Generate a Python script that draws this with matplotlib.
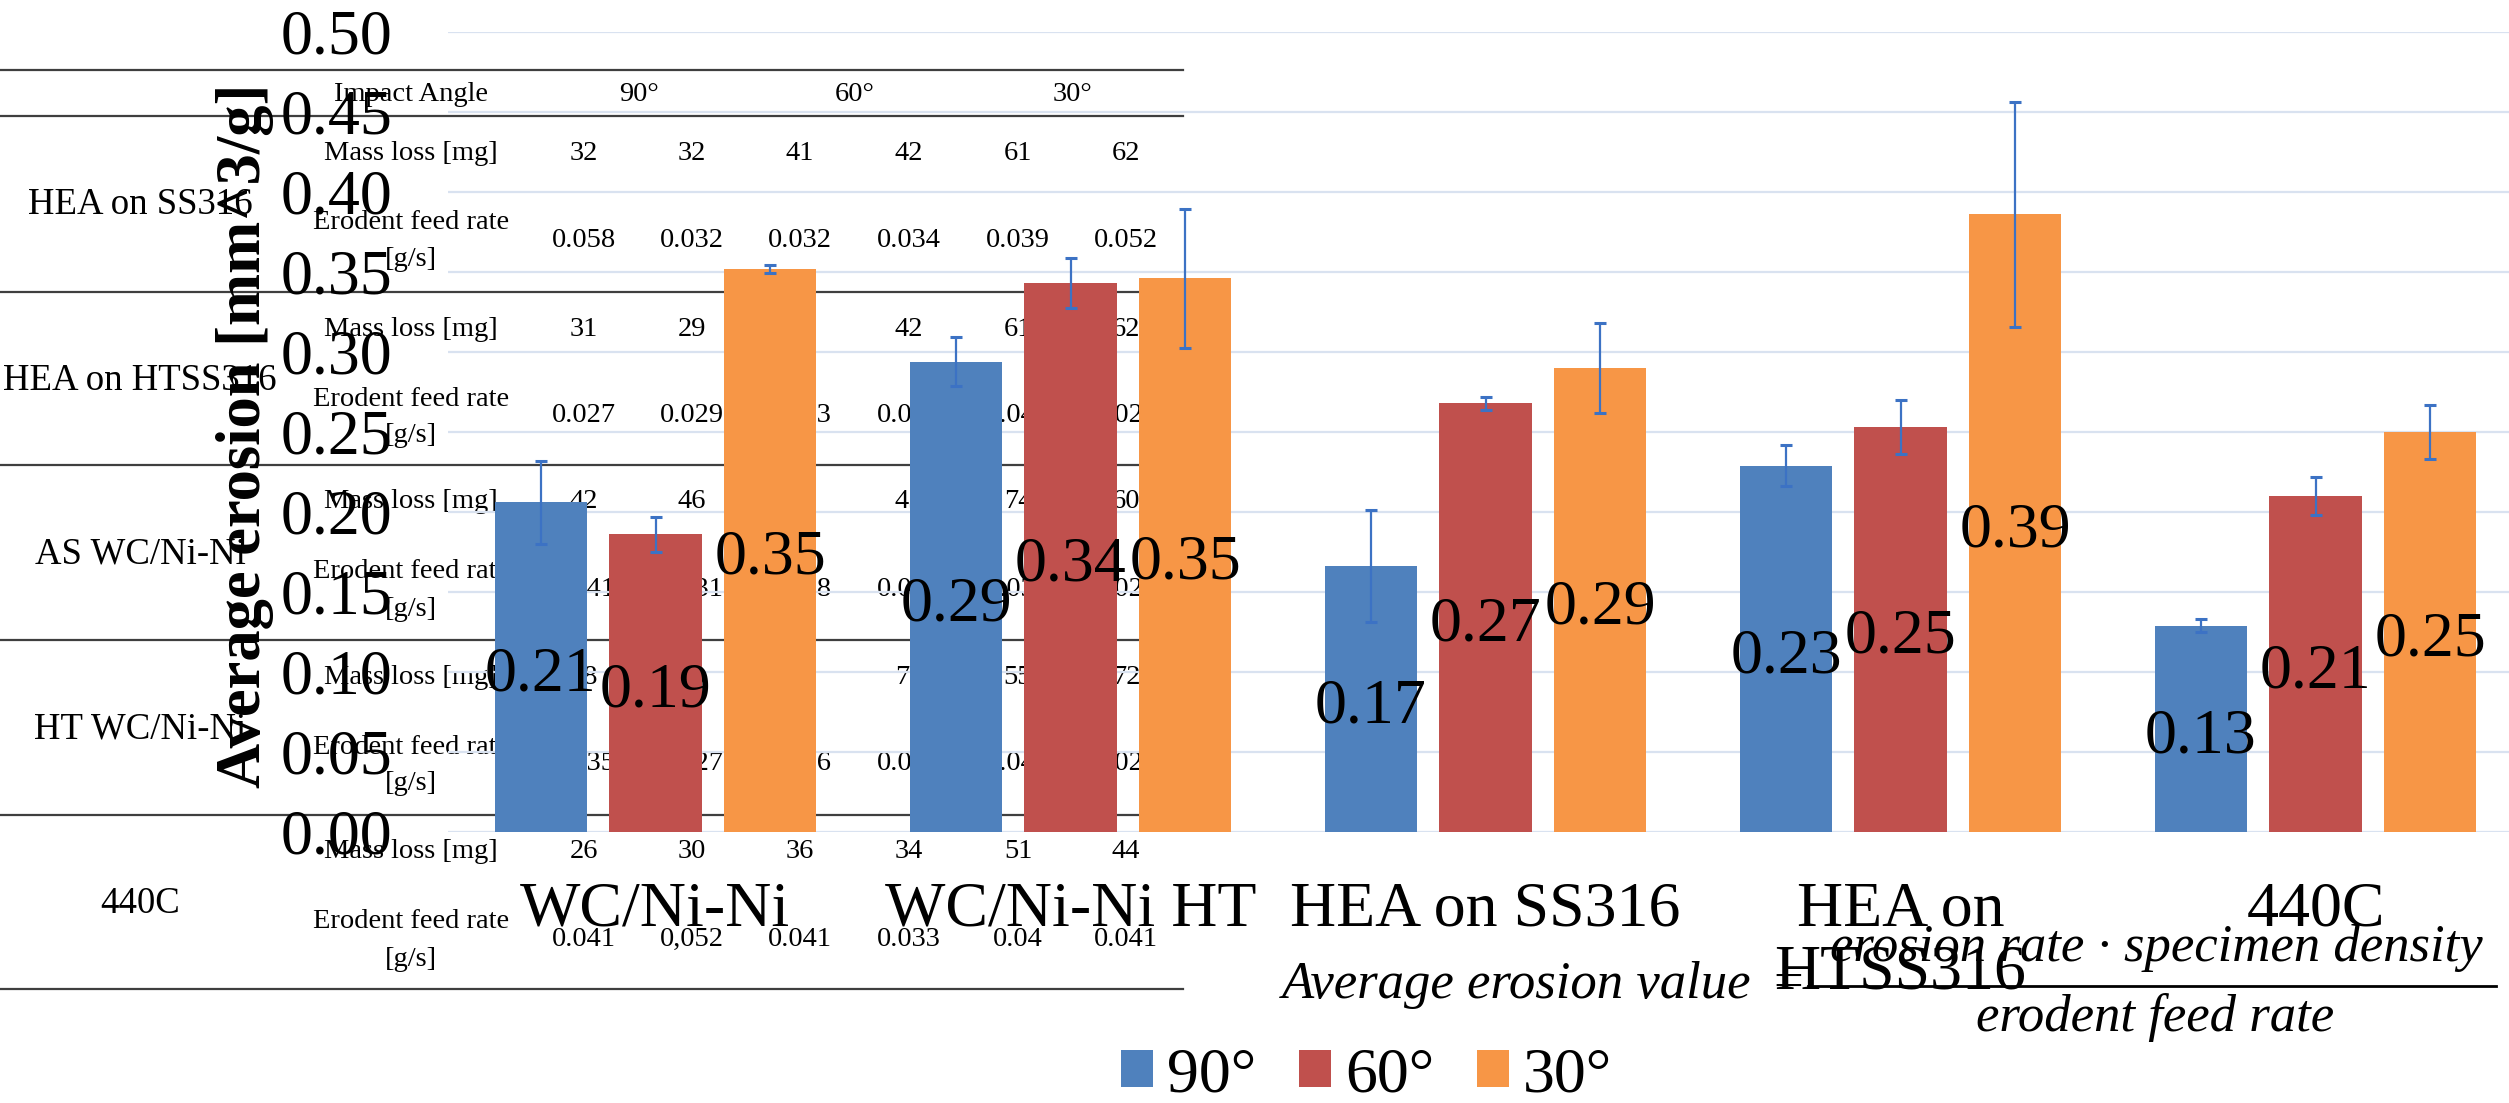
import numpy as np
import matplotlib
matplotlib.use("Agg")
import matplotlib.pyplot as plt
from matplotlib.lines import Line2D

# tamaño del png en pixeles
W, H = 2509, 1103
plt.rcParams['font.family'] = ['Liberation Serif', 'DejaVu Serif']

# datos de la grafica
categorias = ['WC/Ni-Ni', 'WC/Ni-Ni HT', 'HEA on SS316', 'HEA on\nHTSS316', '440C']
angulos = ['90°', '60°', '30°']
erosion_90 = [0.206, 0.294, 0.166, 0.229, 0.129]
erosion_60 = [0.186, 0.343, 0.268, 0.253, 0.210]
erosion_30 = [0.352, 0.346, 0.290, 0.386, 0.250]
error_90 = [0.026, 0.0155, 0.035, 0.013, 0.004]
error_60 = [0.011, 0.0155, 0.004, 0.017, 0.012]
error_30 = [0.0025, 0.0435, 0.028, 0.0705, 0.017]
colores = ['#4F81BD', '#C0504D', '#F79646']

# datos de la tabla que queda debajo
tabla_filas = ['HEA on SS316', 'HEA on HTSS316', 'AS WC/Ni-Ni', 'HT WC/Ni-Ni', '440C']
tabla_masa = [
    ['32', '32', '41', '42', '61', '62'],
    ['31', '29', '40', '42', '61', '62'],
    ['42', '46', '58', '45', '74', '60'],
    ['38', '30', '40', '70', '55', '72'],
    ['26', '30', '36', '34', '51', '44'],
]
tabla_feed = [
    ['0.058', '0.032', '0.032', '0.034', '0.039', '0.052'],
    ['0.027', '0.029', '0.033', '0.030', '0.040', '0.028'],
    ['0.041', '0.031', '0.018', '0.033', '0.030', '0.025'],
    ['0.035', '0.027', '0.036', '0.030', '0.040', '0.028'],
    ['0.041', '0,052', '0.041', '0.033', '0.04', '0.041'],
]


def fx(x):
    return x / W


def fy(y):
    return 1 - y / H


fig = plt.figure(figsize=(W / 100, H / 100), dpi=100)

# ---- tabla (detras de la grafica) ----
for y in [70, 116, 292, 465, 640, 815, 989]:
    fig.add_artist(Line2D([0, fx(1183)], [fy(y), fy(y)], color='#3f3f3f', lw=1.6, zorder=-1))

fig.text(fx(411), fy(95), 'Impact Angle', ha='center', va='center', fontsize=20.5, zorder=-1)
for xa, a in zip([639, 855, 1073], angulos):
    fig.text(fx(xa), fy(95), a, ha='center', va='center', fontsize=20.5, zorder=-1)

col_x = [584, 692, 800, 909, 1018, 1126]
for i, T in enumerate([116, 292, 465, 640, 815]):
    fig.text(fx(140), fy(T + 89), tabla_filas[i], ha='center', va='center', fontsize=26.5, zorder=-1)
    fig.text(fx(411), fy(T + 37), 'Mass loss [mg]', ha='center', va='center', fontsize=20.5, zorder=-1)
    fig.text(fx(411), fy(T + 107), 'Erodent feed rate', ha='center', va='center', fontsize=20.5, zorder=-1)
    fig.text(fx(411), fy(T + 144), '[g/s]', ha='center', va='center', fontsize=20.5, zorder=-1)
    for j in range(6):
        fig.text(fx(col_x[j]), fy(T + 37), tabla_masa[i][j], ha='center', va='center', fontsize=20.5, zorder=-1)
        fig.text(fx(col_x[j]), fy(T + 124), tabla_feed[i][j], ha='center', va='center', fontsize=20.5, zorder=-1)

# ---- grafica de barras ----
ax = fig.add_axes([fx(448), 271 / H, 2075 / W, 800 / H])
ax.patch.set_visible(False)

x = np.arange(len(categorias))
series = [erosion_90, erosion_60, erosion_30]
errores = [error_90, error_60, error_30]
desp = [-0.276, 0, 0.276]
barras = []
for k in range(3):
    b = ax.bar(x + desp[k], series[k], width=0.222, color=colores[k], yerr=errores[k],
               error_kw=dict(ecolor='#3C72C4', elinewidth=1.6, capsize=4, capthick=2.2),
               label=angulos[k], zorder=2)
    ax.bar_label(b, fmt='%.2f', label_type='center', padding=-6, fontsize=46, zorder=4)
    barras.append(b)

ax.set_xlim(-0.5, 4.5)
ax.set_ylim(0, 0.5)
ax.set_yticks(np.arange(0, 0.501, 0.05))
ax.yaxis.set_major_formatter(matplotlib.ticker.FormatStrFormatter('%.2f'))
ax.set_xticks(x, categorias)
for lbl in ax.get_xticklabels():
    lbl.set_linespacing(1.1)
ax.yaxis.grid(True, color='#d9e2f0', lw=1.6)
ax.set_axisbelow(True)
for s in ax.spines.values():
    s.set_visible(False)
ax.tick_params(axis='y', length=0, labelsize=46, pad=40)
ax.tick_params(axis='x', length=0, labelsize=46, pad=36)

fig.text(fx(245), fy(436), 'Average erosion [mm^3/g]', rotation=90, ha='center', va='center',
         fontsize=45, fontweight='bold')

# formula
fig.text(fx(1751), fy(985), 'Average erosion value', ha='right', va='center', style='italic', fontsize=38)
fig.text(fx(1788), fy(985), '=', ha='center', va='center', fontsize=38)
fig.add_artist(Line2D([fx(1808), fx(2496)], [fy(986), fy(986)], color='black', lw=2))
fig.text(fx(2156), fy(948), 'erosion rate · specimen density', ha='center', va='center', style='italic', fontsize=38)
fig.text(fx(2155), fy(1017), 'erodent feed rate', ha='center', va='center', style='italic', fontsize=38)

fig.legend(barras, angulos, loc='center', bbox_to_anchor=(fx(1366.5), fy(1076)), ncol=3, frameon=False,
           fontsize=46, handlelength=0.5, handleheight=0.5, handletextpad=0.22, columnspacing=0.67,
           borderpad=0, borderaxespad=0)

fig.savefig('out.png', dpi=100)
